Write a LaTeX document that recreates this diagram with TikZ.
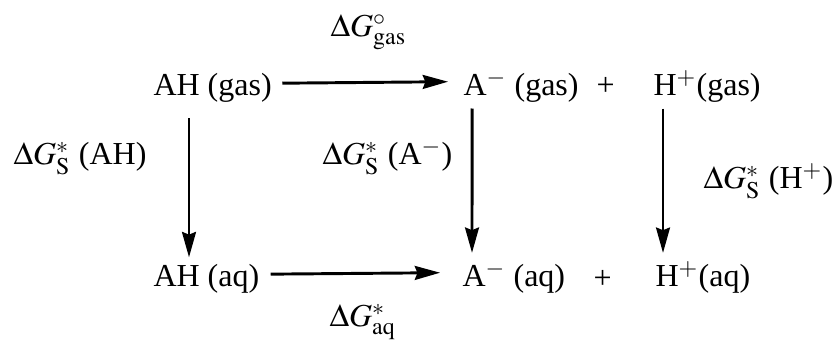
\documentclass[tikz,border=0pt]{standalone}
\usepackage{mathptmx}
\usepackage{fontspec}
\setmainfont{Liberation Serif}
\usetikzlibrary{arrows.meta}
\tikzset{
  species/.style={anchor=base west, inner sep=0pt, font=\fontsize{12}{14}\selectfont},
  energy/.style={species},
  arrow/.style={-{Stealth[length=9.5pt,width=5.2pt,inset=1pt]}, line width=1.1pt}
}

\begin{document}
\begin{tikzpicture}[x=0.375pt,y=-0.375pt]
\useasboundingbox (0,0) rectangle (837,351);
% gas phase
\node[energy] (dgas) at (330,37) {$\Delta G^{\circ}_{\mathrm{gas}}$};
\node[species] (ahgas) at (153,96) {AH (gas)};
\node[species] (agas) at (463,96) {A$^-$ (gas)};
\node[species] (plusgas) at (596,96) {+};
\node[species] (hgas) at (653,96) {H$^+$(gas)};
% solvation
\node[energy] (dsah) at (13,165) {$\Delta G^{*}_{\mathrm{S}}$ (AH)};
\node[energy] (dsa) at (322,165) {$\Delta G^{*}_{\mathrm{S}}$ (A$^-$)};
\node[energy] (dsh) at (703,189) {$\Delta G^{*}_{\mathrm{S}}$ (H$^+$)};
% aqueous phase
\node[species] (ahaq) at (153,287) {AH (aq)};
\node[species] (aaq) at (462,287) {A$^-$ (aq)};
\node[species] (plusaq) at (593,289) {+};
\node[species] (haq) at (655,287) {H$^+$(aq)};
\node[energy] (daq) at (329,327) {$\Delta G^{*}_{\mathrm{aq}}$};

\draw[arrow, shorten <=3.75pt, shorten >=5.6pt] ([yshift=1.9pt]ahgas.east) -- ([yshift=1.9pt]agas.west);
\draw[arrow, shorten <=4.1pt, shorten >=8.2pt] ([yshift=1.9pt]ahaq.east) -- ([yshift=1.9pt]aaq.west);
\draw[arrow, shorten <=5.6pt, shorten >=2.6pt] ([xshift=13.5pt]ahgas.south west) -- ([xshift=13.5pt]ahaq.north west);
\draw[arrow, shorten <=1.9pt, shorten >=3pt] ([xshift=3.4pt]agas.south west) -- ([xshift=3.75pt]aaq.north west);
\draw[arrow, shorten <=1.9pt, shorten >=3pt] ([xshift=3.75pt]hgas.south west) -- ([xshift=3pt]haq.north west);
\end{tikzpicture}
\end{document}
